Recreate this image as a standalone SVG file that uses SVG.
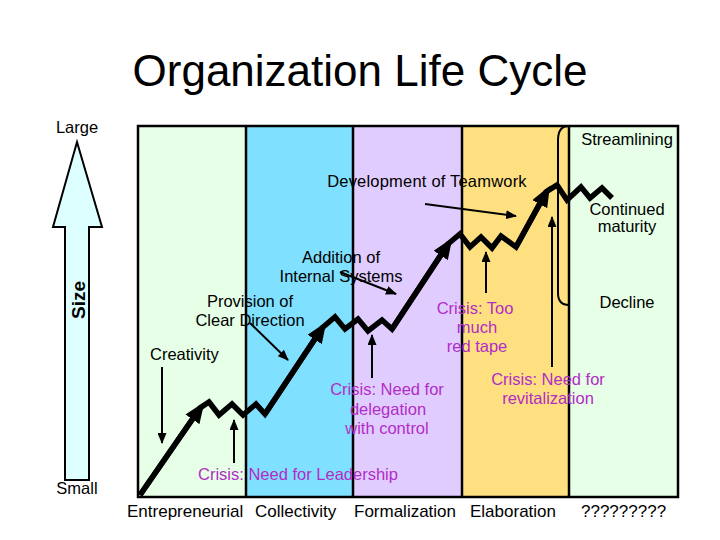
<svg xmlns="http://www.w3.org/2000/svg" width="720" height="540" viewBox="0 0 720 540">
<defs>
<style>
text{font-family:"Liberation Sans",Arial,sans-serif;fill:#000;}
.lbl{font-size:16.5px;}
.c{text-anchor:middle;}
.crisis{fill:#B22CC6;}
.bottom{font-size:17px;}
.thin{stroke:#000;stroke-width:2;fill:none;marker-end:url(#ah);}
.thick{stroke:#000;stroke-width:5.5;fill:none;stroke-linejoin:miter;}
.rise{stroke:#000;stroke-width:5.5;fill:none;marker-end:url(#bh);}
</style>
<marker id="ah" markerUnits="userSpaceOnUse" markerWidth="11" markerHeight="9" refX="10" refY="4.5" orient="auto"><path d="M0,0 L11,4.5 L0,9 z" fill="#000"/></marker>
<marker id="bh" markerUnits="userSpaceOnUse" markerWidth="21" markerHeight="17" refX="15" refY="8.5" orient="auto"><path d="M0,0 L21,8.5 L0,17 z" fill="#000"/></marker>
</defs>
<rect width="720" height="540" fill="#fff"/>
<text x="360" y="86" class="c" font-size="44">Organization Life Cycle</text>

<g id="panels">
<rect x="138" y="126" width="108" height="371" fill="#E6FFE6"/>
<rect x="246" y="126" width="107" height="371" fill="#80E0FF"/>
<rect x="353" y="126" width="109" height="371" fill="#E0CCFF"/>
<rect x="462" y="126" width="107" height="371" fill="#FFE080"/>
<rect x="569" y="126" width="109" height="371" fill="#E6FFE6"/>
<g stroke="#000" stroke-width="2.5">
<line x1="246" y1="126" x2="246" y2="497"/>
<line x1="353" y1="126" x2="353" y2="497"/>
<line x1="462" y1="126" x2="462" y2="497"/>
<line x1="569" y1="126" x2="569" y2="497"/>
</g>
<rect x="138" y="126" width="540" height="371" fill="none" stroke="#000" stroke-width="2.5"/>
<path d="M569,126 Q558,126 558,140 L558,293 Q558,305 569,305" fill="none" stroke="#000" stroke-width="2"/>
</g>

<g id="size-axis">
<path d="M77,142 L102,227 L89,227 L89,480 L65,480 L65,227 L53,227 Z" fill="#DDFFFF" stroke="#000" stroke-width="2"/>
<text x="0" y="0" transform="translate(85,300) rotate(-90)" class="c" font-size="19" font-weight="bold">Size</text>
<text x="77" y="133" class="c lbl" font-size="15">Large</text>
<text x="77" y="494" class="c lbl" font-size="15">Small</text>
</g>

<g id="curve">
<polyline class="thick" points="140,495 200,408 209,402 219,415 232,404 243,415 256,404 265,414 322,328 335,317 345,329 358,319 368,331 382,320 392,329 448,244 460,234 470,247 481,237 492,248 501,236 516,247 546,192 557,185 567,200 581,187 590,198 602,188 612,198"/>
<line class="rise" x1="140" y1="495" x2="201" y2="407"/>
<line class="rise" x1="265" y1="414" x2="323" y2="327"/>
<line class="rise" x1="392" y1="329" x2="449" y2="243"/>
<line class="rise" x1="516" y1="247" x2="547" y2="191"/>
</g>

<g id="connectors">
<line class="thin" x1="162" y1="367" x2="162" y2="443"/>
<line class="thin" x1="234" y1="463" x2="234" y2="420"/>
<line class="thin" x1="250" y1="323" x2="288" y2="360"/>
<line class="thin" x1="372" y1="378" x2="372" y2="335"/>
<line class="thin" x1="340" y1="272" x2="396" y2="294"/>
<line class="thin" x1="486" y1="293" x2="486" y2="252"/>
<line class="thin" x1="425" y1="204" x2="516" y2="216"/>
<line class="thin" x1="552" y1="367" x2="552" y2="217"/>
</g>

<g id="labels">
<text x="627" y="145" class="c lbl">Streamlining</text>
<text x="427" y="187" class="c lbl" letter-spacing="0.2">Development of Teamwork</text>
<text class="c lbl"><tspan x="627" y="215">Continued</tspan><tspan x="627" y="232">maturity</tspan></text>
<text class="c lbl"><tspan x="341" y="263">Addition of</tspan><tspan x="341" y="282">Internal Systems</tspan></text>
<text class="c lbl"><tspan x="250" y="307">Provision of</tspan><tspan x="250" y="326">Clear Direction</tspan></text>
<text x="150" y="360" class="lbl">Creativity</text>
<text x="627" y="308" class="c lbl">Decline</text>
<text class="c lbl crisis"><tspan x="475" y="314">Crisis: Too</tspan><tspan x="477" y="333">much</tspan><tspan x="477" y="352">red tape</tspan></text>
<text class="c lbl crisis"><tspan x="387" y="395">Crisis: Need for</tspan><tspan x="388" y="415">delegation</tspan><tspan x="387" y="434">with control</tspan></text>
<text class="c lbl crisis"><tspan x="548" y="385">Crisis: Need for</tspan><tspan x="548" y="404">revitalization</tspan></text>
<text x="198" y="480" class="lbl crisis">Crisis: Need for Leadership</text>
</g>

<g id="stages">
<text x="127" y="517" class="bottom">Entrepreneurial</text>
<text x="255" y="517" class="bottom">Collectivity</text>
<text x="354" y="517" class="bottom">Formalization</text>
<text x="470" y="517" class="bottom">Elaboration</text>
<text x="581" y="517" class="bottom">?????????</text>
</g>
</svg>
